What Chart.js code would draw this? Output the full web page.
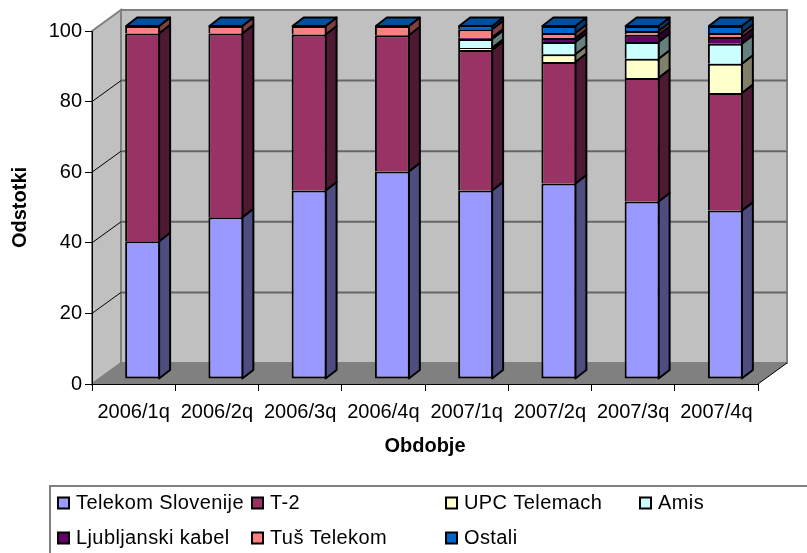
<!DOCTYPE html>
<html>
<head>
<meta charset="utf-8">
<style>
	html, body { margin: 0; padding: 0; background: #fff; }
	canvas { display: block; }
</style>
<script src="https://cdn.jsdelivr.net/npm/chart.js@4/dist/chart.umd.min.js"></script>
</head>
<body>
<canvas id="bar-chart" width="807" height="553"></canvas>
<script>
const periods = ["2006/1q", "2006/2q", "2006/3q", "2006/4q", "2007/1q", "2007/2q", "2007/3q", "2007/4q"];
const telekom = [39.0, 45.8, 53.4, 58.8, 53.4, 55.4, 50.3, 47.7];
const t2 = [58.9, 52.1, 44.2, 38.6, 39.8, 34.4, 35.0, 33.3];
const upc = [0, 0, 0, 0, 0.6, 2.2, 5.4, 8.3];
const amis = [0, 0, 0, 0, 2.5, 3.5, 4.8, 5.7];
const ljubljanski = [0, 0, 0, 0, 0.4, 1.1, 2.0, 1.9];
const tus = [2.1, 2.1, 2.4, 2.6, 2.4, 1.4, 1.1, 1.1];
const ostali = [0, 0, 0, 0, 0.9, 2.0, 1.4, 2.0];
const seriesNames = ["Telekom Slovenije", "T-2", "UPC Telemach", "Amis", "Ljubljanski kabel", "Tuš Telekom", "Ostali"];
const seriesValues = [telekom, t2, upc, amis, ljubljanski, tus, ostali];
const frontColors = ["#9999FF", "#993366", "#FFFFCC", "#CCFFFF", "#660066", "#FF8080", "#0066CC"];
const sideColors = ["#4D4D80", "#4D1933", "#80806A", "#668080", "#330033", "#804040", "#003C78"];
const topColor = "#0050A0";

const fontName = "'Liberation Sans', Arial, sans-serif";
const wallDx = 29, wallDy = -21;   // depth of the walls
const barDx = 9, barDy = -5;       // bars stand a bit inside the floor
const sideDx = 11, sideDy = -8.5;  // depth of a single bar
const barBorder = 2;

function poly(ctx, pts, fill, stroke, lw) {
	ctx.beginPath();
	ctx.moveTo(pts[0][0], pts[0][1]);
	for (var i = 1; i < pts.length; i++) {
		ctx.lineTo(pts[i][0], pts[i][1]);
	}
	ctx.closePath();
	if (fill) {
		ctx.fillStyle = fill;
		ctx.fill();
	}
	if (stroke) {
		ctx.strokeStyle = stroke;
		ctx.lineWidth = lw;
		ctx.stroke();
	}
}

const walls = {
	id: 'walls',
	beforeDraw(chart) {
		const ctx = chart.ctx;
		const a = chart.chartArea;
		const y = chart.scales.y;
		ctx.save();
		poly(ctx, [[a.left, a.top], [a.left + wallDx, a.top + wallDy], [a.left + wallDx, a.bottom + wallDy], [a.left, a.bottom]], "#C0C0C0", "#808080", 2);
		poly(ctx, [[a.left + wallDx, a.top + wallDy], [a.right + wallDx, a.top + wallDy], [a.right + wallDx, a.bottom + wallDy], [a.left + wallDx, a.bottom + wallDy]], "#C0C0C0", "#808080", 2);
		poly(ctx, [[a.left, a.bottom], [a.left + wallDx, a.bottom + wallDy], [a.right + wallDx, a.bottom + wallDy], [a.right, a.bottom]], "#808080");
		y.ticks.forEach(function (t) {
			if (t.value == 0 || t.value == 100) return;
			const py = y.getPixelForValue(t.value);
			ctx.strokeStyle = "#000";
			ctx.lineWidth = 1;
			ctx.beginPath();
			ctx.moveTo(a.left, py);
			ctx.lineTo(a.left + wallDx, py + wallDy);
			ctx.stroke();
			ctx.strokeStyle = "#666";
			ctx.lineWidth = 2;
			ctx.beginPath();
			ctx.moveTo(a.left + wallDx, py + wallDy);
			ctx.lineTo(a.right + wallDx, py + wallDy);
			ctx.stroke();
		});
		// right edge of the floor
		ctx.strokeStyle = "#000";
		ctx.lineWidth = 1;
		ctx.beginPath();
		ctx.moveTo(a.right, a.bottom);
		ctx.lineTo(a.right + wallDx, a.bottom + wallDy);
		ctx.stroke();
		ctx.restore();
	},
	beforeDatasetsDraw(chart) {
		const ctx = chart.ctx;
		ctx.save();
		ctx.translate(barDx, barDy);
		ctx.lineJoin = "round";
		const n = chart.data.datasets.length;
		for (var i = 0; i < n; i++) {
			chart.getDatasetMeta(i).data.forEach(function (bar) {
				const r = bar.x + bar.width / 2 - barBorder / 2;
				const l = bar.x - bar.width / 2 + barBorder / 2;
				if (bar.base - bar.y > 0.01) {
					poly(ctx, [[r, bar.y], [r + sideDx, bar.y + sideDy], [r + sideDx, bar.base + sideDy], [r, bar.base]], sideColors[i], "#000", barBorder);
				}
				if (i == n - 1) {
					poly(ctx, [[l, bar.y], [l + sideDx, bar.y + sideDy], [r + sideDx, bar.y + sideDy], [r, bar.y]], topColor, "#000", barBorder);
				}
			});
		}
	},
	afterDatasetsDraw(chart) {
		chart.ctx.restore();
	},
	afterDraw(chart) {
		const ctx = chart.ctx;
		ctx.save();
		// legend frame runs off the picture on the right and at the bottom
		ctx.strokeStyle = "#808080";
		ctx.lineWidth = 2;
		ctx.strokeRect(50, 486, 800, 100);
		ctx.font = "20px " + fontName;
		ctx.letterSpacing = "0.4px";
		ctx.textBaseline = "middle";
		chart.data.datasets.forEach(function (ds, i) {
			const lx = 58 + (i < 4 ? i : i - 4) * 194;
			const ly = i < 4 ? 503 : 538;
			ctx.fillStyle = ds.backgroundColor;
			ctx.fillRect(lx, ly - 5.5, 11, 11);
			ctx.strokeStyle = "#000";
			ctx.lineWidth = 2;
			ctx.strokeRect(lx, ly - 5.5, 11, 11);
			ctx.fillStyle = "#000";
			ctx.fillText(ds.label, lx + 18, ly);
		});
		ctx.restore();
	}
};

const chartElem = document.getElementById('bar-chart');

var chart = new Chart(chartElem, {
	type: 'bar',
	data: {
		labels: periods,
		datasets: seriesNames.map(function (name, i) {
			return {
				label: name,
				data: seriesValues[i],
				backgroundColor: frontColors[i],
				borderColor: "#000",
				borderWidth: barBorder,
				borderSkipped: i == 0 ? false : 'start',
				categoryPercentage: 1,
				barPercentage: 0.42
			};
		})
	},
	options: {
		responsive: false,
		animation: false,
		layout: { padding: { left: 0, top: 31, right: 49, bottom: 95 } },
		plugins: {
			legend: { display: false },
			tooltip: { enabled: false }
		},
		scales: {
			x: {
				stacked: true,
				afterFit: function (s) { s.height = 74; },
				grid: { drawOnChartArea: false, color: "#000", tickLength: 7, tickColor: "#000", offset: true },
				border: { color: "#000", width: 1 },
				ticks: { color: "#000", font: { size: 20, family: fontName }, padding: 9, maxRotation: 0, autoSkip: false },
				title: { display: true, text: "Obdobje", color: "#000", font: { size: 20, weight: "bold", family: fontName }, padding: { top: 0, bottom: 0 } }
			},
			y: {
				stacked: true,
				min: 0,
				max: 100,
				afterFit: function (s) { s.width = 92; },
				grid: { drawOnChartArea: false, color: "#000", tickLength: 7, tickColor: "#000" },
				border: { color: "#000", width: 1 },
				ticks: { color: "#000", stepSize: 20, font: { size: 20, family: fontName }, padding: 3 },
				title: { display: true, text: "Odstotki", color: "#000", font: { size: 20, weight: "bold", family: fontName }, padding: { top: 8, bottom: 0 } }
			}
		}
	},
	plugins: [walls]
});
</script>
</body>
</html>
